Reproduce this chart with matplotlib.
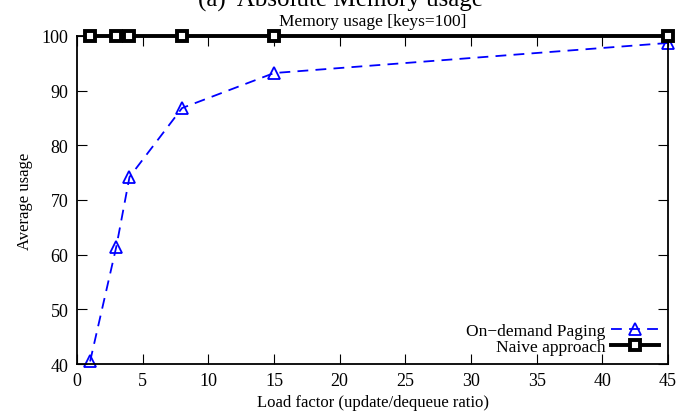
import matplotlib.pyplot as plt

plt.rcParams['font.family'] = ['Liberation Serif', 'DejaVu Serif']

load_factor = [1, 3, 4, 8, 15, 45]
on_demand = [40.5, 61.5, 74.2, 86.8, 93.2, 98.7]
naive = [100, 100, 100, 100, 100, 100]

fig = plt.figure(figsize=(6.81, 4.14), dpi=100)
ax = fig.add_axes([0.113, 0.118, 0.868, 0.793])

ax.plot(load_factor, on_demand, linestyle=(0, (6, 4)), color='#0000ff', linewidth=1.3,
        marker='^', markersize=8, markerfacecolor='none', markeredgecolor='#0000ff',
        markeredgewidth=1.3, label='On\u2212demand Paging', clip_on=False)
ax.plot(load_factor, naive, '-', color='black', linewidth=2.8,
        marker='s', markersize=6.5, markerfacecolor='white', markeredgecolor='black',
        markeredgewidth=2.8, label='Naive approach', clip_on=False, zorder=5)

ax.set_xlim(0, 45)
ax.set_ylim(40, 100)
ax.set_xticks(range(0, 46, 5))
ax.set_yticks(range(40, 101, 10))
ax.tick_params(direction='in', top=True, right=True, labelsize=13, length=7, pad=6)
for s in ax.spines.values():
    s.set_linewidth(1.3)

ax.set_xlabel('Load factor (update/dequeue ratio)', fontsize=12, labelpad=3)
ax.set_ylabel('Average usage', fontsize=12, labelpad=6)
ax.set_title('Memory usage [keys=100]', fontsize=12.5, pad=8)
fig.text(0.5, 1.0, '(a)  Absolute Memory usage', ha='center', va='center', fontsize=18)

ax.legend(loc='lower right', frameon=False, markerfirst=False, fontsize=12.5,
          handlelength=2.8, borderaxespad=0.3, labelspacing=0.0, handletextpad=0.3,
          borderpad=0.2)

fig.savefig('out.png', dpi=100)
